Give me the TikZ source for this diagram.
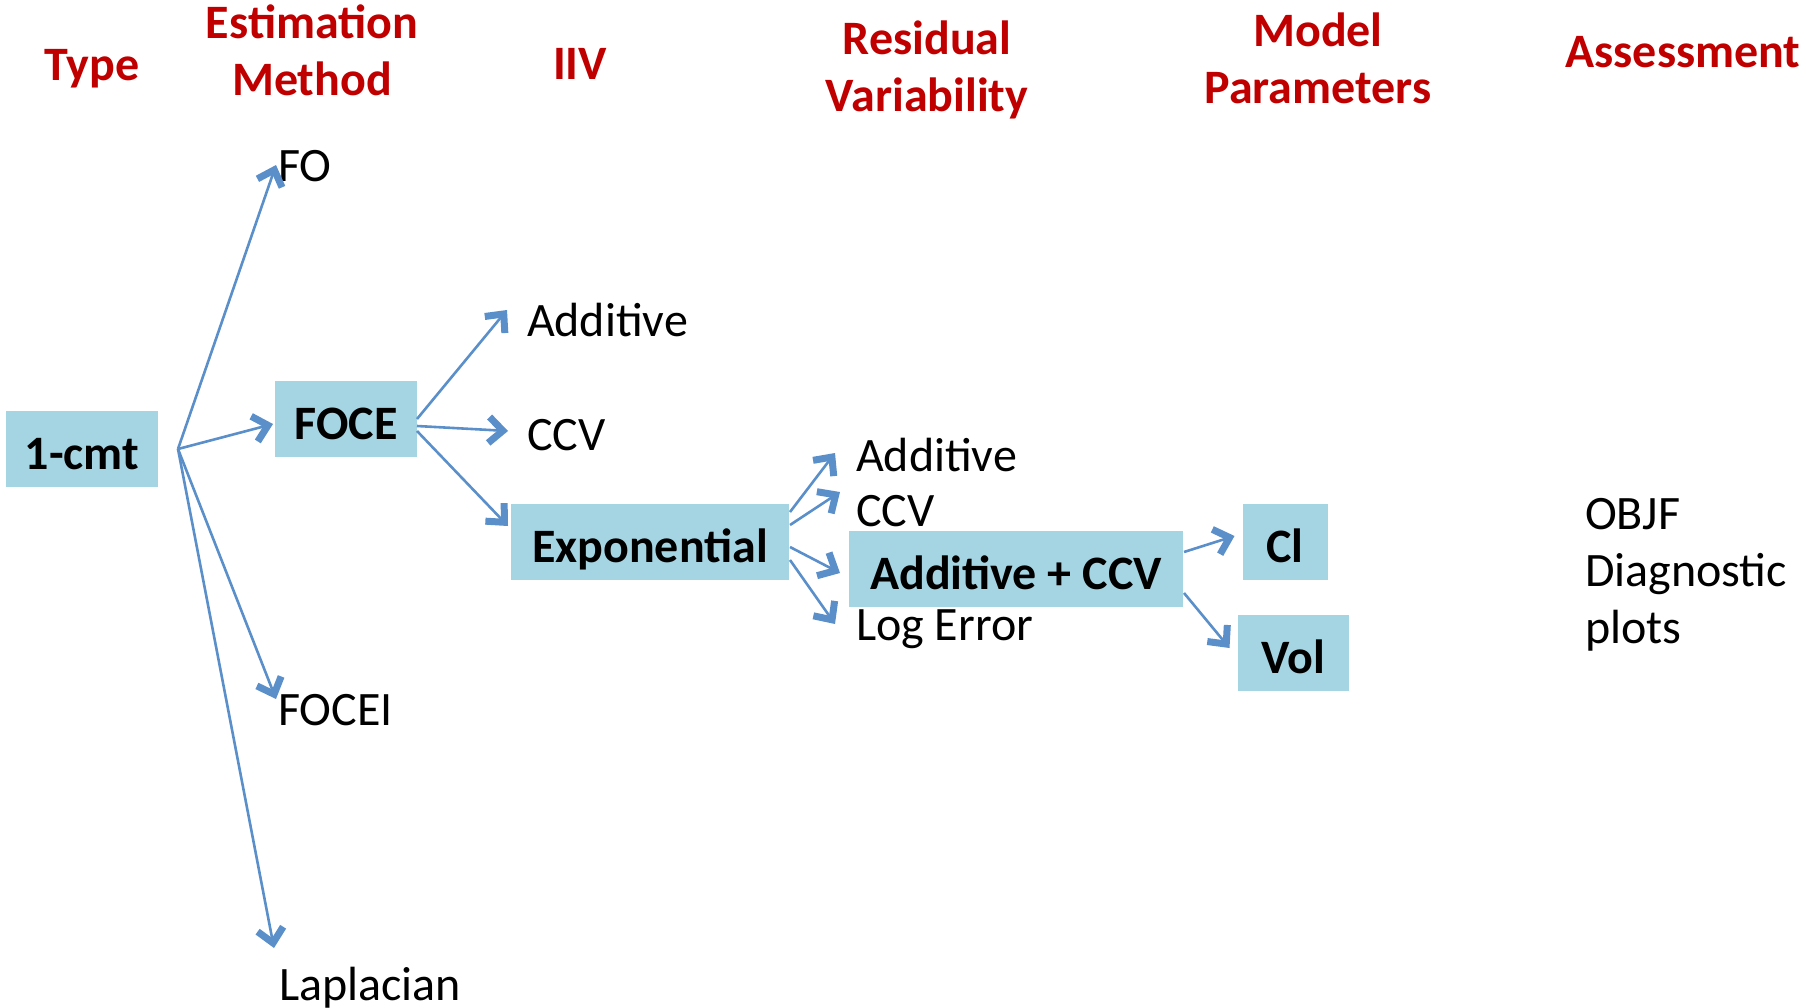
\documentclass[tikz,border=0pt]{standalone}
\usepackage{fontspec}
\setmainfont{Carlito}
\usetikzlibrary{arrows.meta,calc}
\definecolor{boxblue}{RGB}{165,213,227}
\definecolor{arrowblue}{RGB}{90,143,202}
\definecolor{headred}{RGB}{192,0,0}

\begin{document}
\begin{tikzpicture}[x=1pt,y=-1pt,
  every node/.style={inner sep=0pt, outer sep=0pt},
  head/.style={anchor=base, text=headred, align=center,
    font=\fontsize{48}{57}\selectfont\bfseries},
  lbl/.style={anchor=base west, align=left,
    font=\fontsize{48}{57}\selectfont},
  box/.style={fill=boxblue, font=\fontsize{48}{57}\selectfont\bfseries,
    text height=50pt, text depth=10pt, minimum height=76pt},
  arr/.style={draw=arrowblue, line width=2.6pt,
    -{Straight Barb[length=14pt,width=26pt,line width=7pt]}}
]
\useasboundingbox (0,0) rectangle (1806,1008);

% column headings (base anchor sits on the last line)
\node[head] (hType) at (92,81)    {Type};
\node[head] (hEst)  at (312,96)   {Estimation\\Method};
\node[head] (hIIV)  at (580,80)   {IIV};
\node[head] (hRV)   at (927,112)  {Residual\\Variability};
\node[head] (hPar)  at (1318,104) {Model\\Parameters};
\node[head] (hAss)  at (1683,68)  {Assessment};

% selected choices
\node[box, minimum width=152pt] (cmt)    at (82,449)   {1-cmt};
\node[box, minimum width=142pt] (foce)   at (346,419)  {FOCE};
\node[box, minimum width=278pt] (expo)   at (650,542)  {Exponential};
\node[box, minimum width=334pt] (addccv) at (1016,569) {Additive + CCV};
\node[box, minimum width=85pt]  (cl)     at (1285,542) {Cl};
\node[box, minimum width=111pt] (vol)    at (1293,653) {Vol};

% alternatives
\node[lbl] (fo)      at (278,182)  {FO};
\node[lbl] (focei)   at (278,725)  {FOCEI};
\node[lbl] (lap)     at (279,1000) {Laplacian};
\node[lbl] (iivadd)  at (527,336)  {Additive};
\node[lbl] (iivccv)  at (527,450)  {CCV};
\node[lbl] (rvadd)   at (856,471)  {Additive};
\node[lbl] (rvccv)   at (856,526)  {CCV};
\node[lbl] (rvlog)   at (856,640)  {Log Error};
\node[lbl] (assess)  at (1585,643) {OBJF\\Diagnostic\\plots};

% fan of estimation methods
\coordinate (fan) at ($(cmt.east)+(20,0)$);
\draw[arr] (fan) -- ($(fo.base west)+(-2,-17)$);
\draw[arr] (fan) -- ($(foce.west)+(-2,5)$);
\draw[arr] (fan) -- ($(focei.base west)+(-2,-26)$);
\draw[arr] (fan) -- ($(lap.base west)+(-5,-52)$);

% inter-individual variability
\draw[arr] (foce.east) -- ($(iivadd.base west)+(-20,-26)$);
\draw[arr] ($(foce.east)+(0,7)$) -- ($(iivccv.base west)+(-19,-19)$);
\draw[arr] ($(foce.east)+(0,12)$) -- ($(expo.north west)+(-3,22)$);

% residual variability
\draw[arr] ($(expo.east)+(1,-30)$) -- ($(rvadd.base west)+(-21,-18)$);
\draw[arr] ($(expo.east)+(1,-17)$) -- ($(rvccv.base west)+(-16,-34)$);
\draw[arr] ($(expo.east)+(1,5)$)   -- ($(addccv.west)+(-9,4)$);
\draw[arr] ($(expo.east)+(1,18)$)  -- ($(rvlog.base west)+(-21,-16)$);

% model parameters
\draw[arr] ($(addccv.east)+(1,-17)$) -- ($(cl.west)+(-8,-6)$);
\draw[arr] ($(addccv.east)+(1,24)$)  -- ($(vol.west)+(-8,-5)$);
\end{tikzpicture}
\end{document}
